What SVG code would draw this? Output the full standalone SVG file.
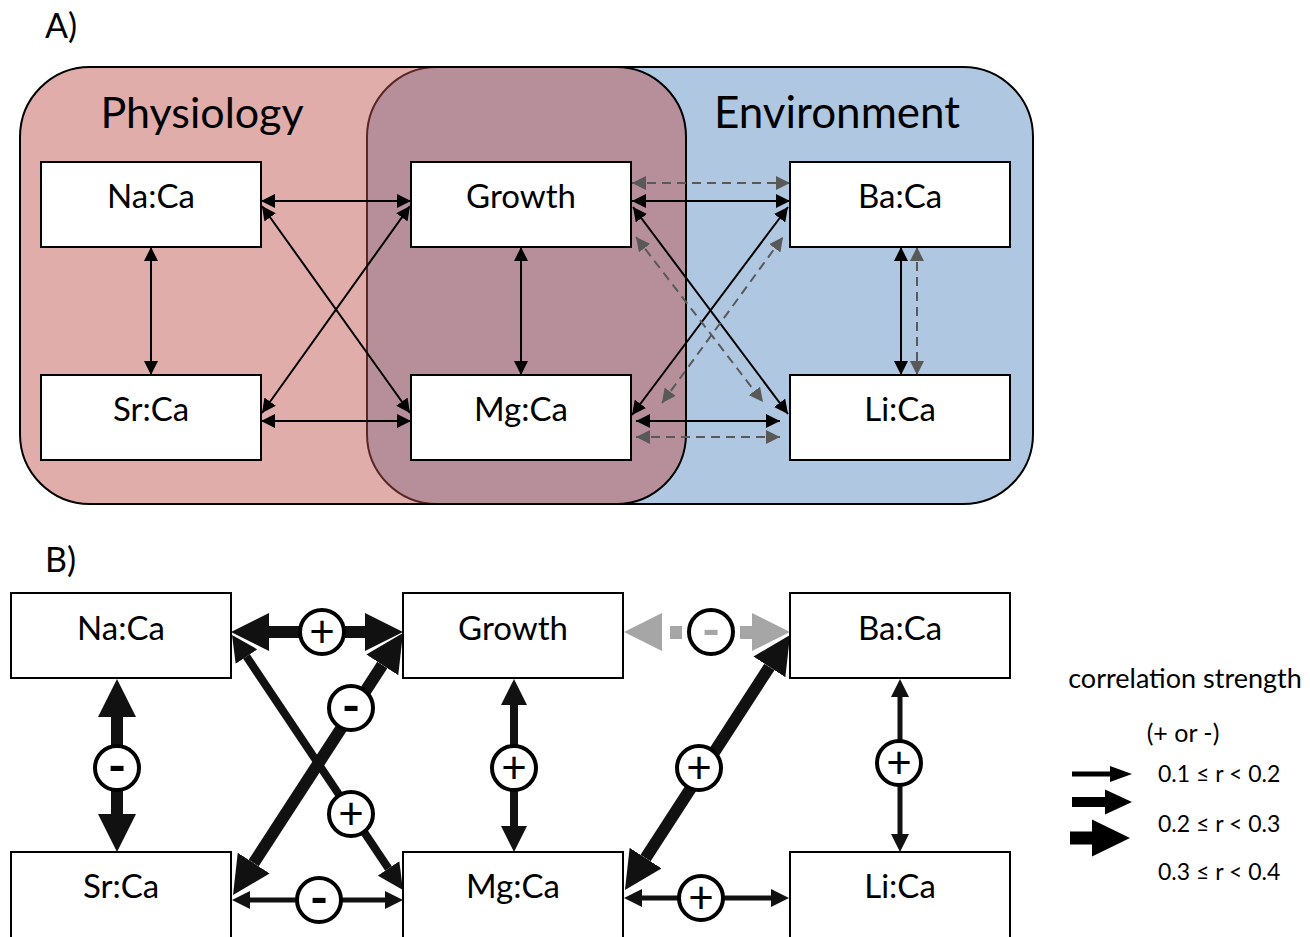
<svg xmlns="http://www.w3.org/2000/svg" width="1310" height="937" viewBox="0 0 1310 937">
<defs>
<style>
.lbl{font-family:Lato,"Open Sans","Liberation Sans",sans-serif;fill:#000}
.node rect{fill:#fff;stroke:#000;stroke-width:2}
.nt{font-size:33px;text-anchor:middle}
.ca{stroke:#000;stroke-width:2;fill:none}
.da{stroke:#595959;stroke-width:2;stroke-dasharray:9 6;fill:none}
.b{stroke:#111;fill:none}
.sg{fill:#fff;stroke:#000;stroke-width:4}
.st{font-size:44px;text-anchor:middle}
.mn{font-size:50px;font-weight:bold;text-anchor:middle}
</style>
<marker id="hA" markerUnits="userSpaceOnUse" markerWidth="14" markerHeight="14" refX="14" refY="7" orient="auto-start-reverse"><path d="M0,0 L14,7 L0,14 z" fill="#000"/></marker>
<marker id="hD" markerUnits="userSpaceOnUse" markerWidth="14" markerHeight="14" refX="14" refY="7" orient="auto-start-reverse"><path d="M0,0 L14,7 L0,14 z" fill="#595959"/></marker>
<marker id="hT" markerUnits="userSpaceOnUse" markerWidth="18" markerHeight="18" refX="0" refY="9" orient="auto-start-reverse"><path d="M0,0 L18,9 L0,18 z" fill="#111"/></marker>
<marker id="hM" markerUnits="userSpaceOnUse" markerWidth="26" markerHeight="26" refX="0" refY="13" orient="auto-start-reverse"><path d="M0,0 L26,13 L0,26 z" fill="#111"/></marker>
<marker id="hK" markerUnits="userSpaceOnUse" markerWidth="38" markerHeight="38" refX="0" refY="19" orient="auto-start-reverse"><path d="M0,0 L38,19 L0,38 z" fill="#111"/></marker>
</defs>
<rect width="1310" height="937" fill="#fff"/>

<!-- Panel A -->
<text class="lbl" x="45" y="38" font-size="34">A)</text>
<g id="group-environment">
<rect x="367" y="67" width="666" height="437" rx="70" ry="70" fill="#b0c7e1" stroke="#000" stroke-width="2"/>
</g>
<g id="group-physiology">
<rect x="20" y="67" width="666" height="437" rx="70" ry="70" fill="#c0504d" fill-opacity="0.47" stroke="#000" stroke-width="2"/>
</g>
<text class="lbl" x="202" y="128" font-size="43" text-anchor="middle">Physiology</text>
<text class="lbl" x="837" y="128" font-size="44" text-anchor="middle">Environment</text>

<g id="connectors-a">
<line class="ca" x1="261" y1="201" x2="411" y2="201" marker-start="url(#hA)" marker-end="url(#hA)"/>
<line class="ca" x1="151" y1="247" x2="151" y2="375" marker-start="url(#hA)" marker-end="url(#hA)"/>
<line class="ca" x1="261" y1="421" x2="411" y2="421" marker-start="url(#hA)" marker-end="url(#hA)"/>
<line class="ca" x1="262" y1="206" x2="410" y2="413" marker-start="url(#hA)" marker-end="url(#hA)"/>
<line class="ca" x1="262" y1="413" x2="410" y2="206" marker-start="url(#hA)" marker-end="url(#hA)"/>
<line class="ca" x1="521" y1="247" x2="521" y2="375" marker-start="url(#hA)" marker-end="url(#hA)"/>
<line class="da" x1="632" y1="183" x2="790" y2="183" marker-start="url(#hD)" marker-end="url(#hD)"/>
<line class="ca" x1="632" y1="201" x2="790" y2="201" marker-start="url(#hA)" marker-end="url(#hA)"/>
<line class="ca" x1="633" y1="207" x2="788" y2="414" marker-start="url(#hA)" marker-end="url(#hA)"/>
<line class="ca" x1="632" y1="415" x2="788" y2="207" marker-start="url(#hA)" marker-end="url(#hA)"/>
<line class="da" x1="636" y1="237" x2="763" y2="402" marker-start="url(#hD)" marker-end="url(#hD)"/>
<line class="da" x1="662" y1="403" x2="783" y2="237" marker-start="url(#hD)" marker-end="url(#hD)"/>
<line class="ca" x1="636" y1="421" x2="780" y2="421" marker-start="url(#hA)" marker-end="url(#hA)"/>
<line class="da" x1="636" y1="437" x2="780" y2="437" marker-start="url(#hD)" marker-end="url(#hD)"/>
<line class="ca" x1="901" y1="247" x2="901" y2="375" marker-start="url(#hA)" marker-end="url(#hA)"/>
<line class="da" x1="917" y1="247" x2="917" y2="375" marker-start="url(#hD)" marker-end="url(#hD)"/>
</g>

<g id="a-naca" class="node"><rect x="41" y="162" width="220" height="85"/><text class="lbl nt" x="151" y="208">Na:Ca</text></g>
<g id="a-growth" class="node"><rect x="411" y="162" width="220" height="85"/><text class="lbl nt" x="521" y="208">Growth</text></g>
<g id="a-baca" class="node"><rect x="790" y="162" width="220" height="85"/><text class="lbl nt" x="900" y="208">Ba:Ca</text></g>
<g id="a-srca" class="node"><rect x="41" y="375" width="220" height="85"/><text class="lbl nt" x="151" y="421">Sr:Ca</text></g>
<g id="a-mgca" class="node"><rect x="411" y="375" width="220" height="85"/><text class="lbl nt" x="521" y="421">Mg:Ca</text></g>
<g id="a-lica" class="node"><rect x="790" y="375" width="220" height="85"/><text class="lbl nt" x="900" y="421">Li:Ca</text></g>

<!-- Panel B -->
<text class="lbl" x="45" y="572" font-size="34">B)</text>

<g id="connectors-b">
<line class="b" stroke-width="12" x1="269" y1="632" x2="365" y2="632" marker-start="url(#hK)" marker-end="url(#hK)"/>
<line class="b" stroke-width="12" x1="117" y1="717" x2="117" y2="814" marker-start="url(#hK)" marker-end="url(#hK)"/>
<line class="b" stroke-width="8" x1="246.5" y1="656.6" x2="388.5" y2="868.4" marker-start="url(#hM)" marker-end="url(#hM)"/>
<line class="b" stroke-width="12" x1="253.7" y1="863.1" x2="382.3" y2="664.9" marker-start="url(#hK)" marker-end="url(#hK)"/>
<line class="b" stroke-width="5" x1="250" y1="900" x2="385" y2="900" marker-start="url(#hT)" marker-end="url(#hT)"/>
<line class="b" stroke-width="8" x1="514" y1="705" x2="514" y2="826" marker-start="url(#hM)" marker-end="url(#hM)"/>
<line class="b" stroke-width="12" x1="769.4" y1="666.9" x2="645.6" y2="858.1" marker-start="url(#hK)" marker-end="url(#hK)"/>
<line class="b" stroke-width="5" x1="900" y1="697" x2="900" y2="834" marker-start="url(#hT)" marker-end="url(#hT)"/>
<line class="b" stroke-width="5" x1="642" y1="898" x2="771" y2="898" marker-start="url(#hT)" marker-end="url(#hT)"/>
<g id="growth-baca" fill="#a6a6a6">
<polygon points="624,632 662,613 662,651"/>
<rect x="670" y="626" width="12" height="13"/>
<rect x="740" y="626" width="12" height="13"/>
<polygon points="790,632 752,613 752,651"/>
</g>
</g>

<g id="signs">
<circle class="sg" cx="322" cy="632" r="22"/><text class="lbl st" x="322" y="647">+</text>
<circle class="sg" cx="117" cy="768" r="22"/><text class="lbl mn" x="117" y="784">-</text>
<circle class="sg" cx="351" cy="708" r="22"/><text class="lbl mn" x="351" y="724">-</text>
<circle class="sg" cx="351" cy="814" r="22"/><text class="lbl st" x="351" y="829">+</text>
<circle class="sg" cx="319" cy="900" r="22"/><text class="lbl mn" x="319" y="916">-</text>
<circle class="sg" cx="514" cy="768" r="22"/><text class="lbl st" x="514" y="783">+</text>
<circle class="sg" cx="711" cy="632" r="22" stroke="#a6a6a6"/><text class="lbl mn" x="711" y="648" style="fill:#a6a6a6">-</text>
<circle class="sg" cx="699" cy="768" r="22"/><text class="lbl st" x="699" y="783">+</text>
<circle class="sg" cx="899" cy="763" r="22"/><text class="lbl st" x="899" y="778">+</text>
<circle class="sg" cx="701" cy="898" r="22"/><text class="lbl st" x="701" y="913">+</text>
</g>

<g id="b-naca" class="node"><rect x="11" y="593" width="220" height="85"/><text class="lbl nt" x="121" y="640">Na:Ca</text></g>
<g id="b-growth" class="node"><rect x="403" y="593" width="220" height="85"/><text class="lbl nt" x="513" y="640">Growth</text></g>
<g id="b-baca" class="node"><rect x="790" y="593" width="220" height="85"/><text class="lbl nt" x="900" y="640">Ba:Ca</text></g>
<g id="b-srca" class="node"><rect x="11" y="852" width="220" height="90"/><text class="lbl nt" x="121" y="898">Sr:Ca</text></g>
<g id="b-mgca" class="node"><rect x="403" y="852" width="220" height="90"/><text class="lbl nt" x="513" y="898">Mg:Ca</text></g>
<g id="b-lica" class="node"><rect x="790" y="852" width="220" height="90"/><text class="lbl nt" x="900" y="898">Li:Ca</text></g>

<g id="legend">
<text class="lbl" x="1185" y="688" font-size="27" text-anchor="middle">correlation strength</text>
<text class="lbl" x="1183" y="742" font-size="25" text-anchor="middle">(+ or -)</text>
<rect x="1072" y="771.5" width="40" height="5" fill="#000"/>
<polygon points="1110,766 1132,774 1110,782" fill="#000"/>
<rect x="1072" y="797" width="35" height="10" fill="#000"/>
<polygon points="1105,789.5 1132,802 1105,814.5" fill="#000"/>
<rect x="1070" y="831.5" width="24" height="13" fill="#000"/>
<polygon points="1092,819.5 1130,838 1092,856.5" fill="#000"/>
<text class="lbl" x="1158" y="782" font-size="23">0.1 ≤ r &lt; 0.2</text>
<text class="lbl" x="1158" y="832" font-size="23">0.2 ≤ r &lt; 0.3</text>
<text class="lbl" x="1158" y="880" font-size="23">0.3 ≤ r &lt; 0.4</text>
</g>
</svg>
